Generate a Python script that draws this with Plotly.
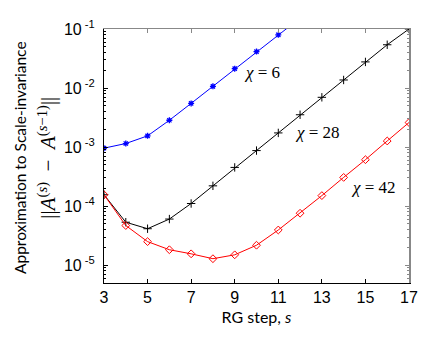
import plotly.graph_objects as go
import math

steps = list(range(3, 18))
chi6_steps = [3, 4, 5, 6, 7, 8, 9, 10, 11, 12]
chi6 = [9.6e-4, 1.15e-3, 1.55e-3, 2.85e-3, 5.5e-3, 1.07e-2, 2.13e-2, 4.15e-2, 7.98e-2, 1.53e-1]
chi28 = [1.56e-4, 5.35e-5, 4.15e-5, 6.05e-5, 1.11e-4, 2.21e-4, 4.53e-4, 8.73e-4,
         1.74e-3, 3.53e-3, 6.97e-3, 1.37e-2, 2.77e-2, 5.41e-2, 1.0e-1]
chi42 = [1.56e-4, 4.7e-5, 2.51e-5, 1.83e-5, 1.56e-5, 1.29e-5, 1.50e-5, 2.18e-5,
         3.95e-5, 7.59e-5, 1.51e-4, 3.07e-4, 6.12e-4, 1.27e-3, 2.61e-3]

xtick_vals = [3, 5, 7, 9, 11, 13, 15, 17]
ytick_vals = [1e-5, 1e-4, 1e-3, 1e-2, 1e-1]
ytick_text = ["10<sup> -5</sup>", "10<sup> -4</sup>", "10<sup> -3</sup>", "10<sup> -2</sup>", "10<sup> -1</sup>"]
labels = [("<i>χ</i> = 6", 10.25, 10 ** -1.743), ("<i>χ</i> = 28", 12.8, 10 ** -2.759),
          ("<i>χ</i> = 42", 15.35, 10 ** -3.68)]

yrange = [math.log10(5e-6), -1]
xrange_ = [3, 17]

fig = go.Figure()
fig.add_trace(go.Scatter(x=chi6_steps, y=chi6, mode="lines+markers",
                         line=dict(color="#0000ff", width=1),
                         marker=dict(symbol="asterisk-open", size=5, color="#0000ff",
                                     line=dict(color="#0000ff", width=1.3))))
fig.add_trace(go.Scatter(x=steps, y=chi28, mode="lines+markers",
                         line=dict(color="#000000", width=1),
                         marker=dict(symbol="cross-thin-open", size=6, color="#000000",
                                     line=dict(color="#000000", width=1))))
fig.add_trace(go.Scatter(x=steps, y=chi42, mode="lines+markers",
                         line=dict(color="#ff0000", width=1),
                         marker=dict(symbol="diamond-open", size=6, color="#ff0000",
                                     line=dict(color="#ff0000", width=1))))
# dummy trace for mirror axes
fig.add_trace(go.Scatter(x=steps, y=chi28, xaxis="x2", yaxis="y2", mode="lines",
                         opacity=0, hoverinfo="skip"))

for txt, xv, yv in labels:
    fig.add_annotation(x=xv, y=math.log10(yv), text=txt, showarrow=False,
                       font=dict(family="Liberation Serif", size=17, color="#000"),
                       xanchor="center", yanchor="middle")

fig.add_annotation(xref="paper", yref="paper", x=(17 - 104) / 314, y=0.494,
                   text="Approximation to Scale-invariance", textangle=-90, showarrow=False,
                   font=dict(family="Lato", size=15.5, color="#000"), xanchor="center", yanchor="middle")
fig.add_annotation(xref="paper", yref="paper", x=(45 - 104) / 314, y=0.492,
                   text="||<i>A</i><sup>(<i>s</i>)</sup> \u00a0−\u00a0 <i>A</i><sup>(<i>s</i>−1)</sup>||",
                   textangle=-90, showarrow=False,
                   font=dict(family="Liberation Serif", size=21, color="#000"), xanchor="center", yanchor="middle")

tickfont = dict(family="Liberation Sans", size=16, color="#000")
fig.update_layout(
    width=420, height=325, showlegend=False,
    paper_bgcolor="white", plot_bgcolor="white",
    margin=dict(l=96, r=10, t=15, b=48),
    xaxis=dict(range=xrange_, tickvals=xtick_vals, ticks="inside", ticklen=4,
               showline=True, linecolor="#000", linewidth=1, showgrid=False, zeroline=False,
               tickfont=tickfont, tickcolor="#000",
               title=dict(text="RG step, <i>s</i>", font=dict(family="Lato", size=16, color="#000"), standoff=6)),
    yaxis=dict(type="log", range=yrange, tickvals=ytick_vals, ticktext=ytick_text,
               ticks="inside", ticklen=4, tickcolor="#000", ticklabelstandoff=5,
               minor=dict(ticks="inside", ticklen=2, dtick="D1", tickcolor="#000", showgrid=False),
               showline=True, linecolor="#000", linewidth=1, showgrid=False, zeroline=False,
               tickfont=dict(family="Liberation Sans", size=16, color="#000")),
    xaxis2=dict(range=xrange_, overlaying="x", side="top", anchor="y2", tickvals=xtick_vals,
                ticks="inside", ticklen=4, tickcolor="#888", showticklabels=False,
                showline=True, linecolor="#888", linewidth=1, showgrid=False, zeroline=False),
    yaxis2=dict(type="log", range=yrange, overlaying="y", side="right", anchor="x2", tickvals=ytick_vals,
                ticks="inside", ticklen=4, tickcolor="#888", showticklabels=False,
                minor=dict(ticks="inside", ticklen=2, dtick="D1", tickcolor="#888", showgrid=False),
                showline=True, linecolor="#888", linewidth=2, showgrid=False, zeroline=False),
)

fig.write_html("out.html")
